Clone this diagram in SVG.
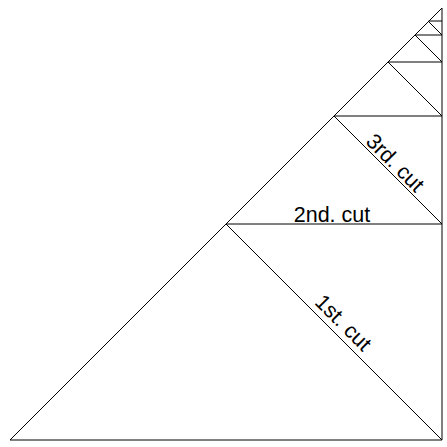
<svg xmlns="http://www.w3.org/2000/svg" width="447" height="447" viewBox="0 0 447 447">
<style>
line,polygon{stroke:#000;stroke-width:1;fill:none}
text{font-family:"Liberation Sans",Arial,sans-serif;font-size:21.5px;fill:#000;text-anchor:middle}
</style>
<rect width="447" height="447" fill="#fff"/>
<g id="triangle">
<polygon points="10,440 442,440 442,8"/>
</g>
<g id="cuts">
<line x1="442" y1="440" x2="226" y2="224"/>
<line x1="226" y1="224" x2="442" y2="224"/>
<line x1="442" y1="224" x2="334" y2="116"/>
<line x1="334" y1="116" x2="442" y2="116"/>
<line x1="442" y1="116" x2="388" y2="62"/>
<line x1="388" y1="62" x2="442" y2="62"/>
<line x1="442" y1="62" x2="415" y2="35"/>
<line x1="415" y1="35" x2="442" y2="35"/>
<line x1="442" y1="35" x2="428.5" y2="21.5"/>
<line x1="428.5" y1="21" x2="442" y2="21"/>
</g>
<g id="labels">
<text transform="translate(334,332) rotate(45)" y="-6">1st. cut</text>
<text x="332" y="222">2nd. cut</text>
<text transform="translate(388,170) rotate(45)" y="-3">3rd. cut</text>
</g>
</svg>
